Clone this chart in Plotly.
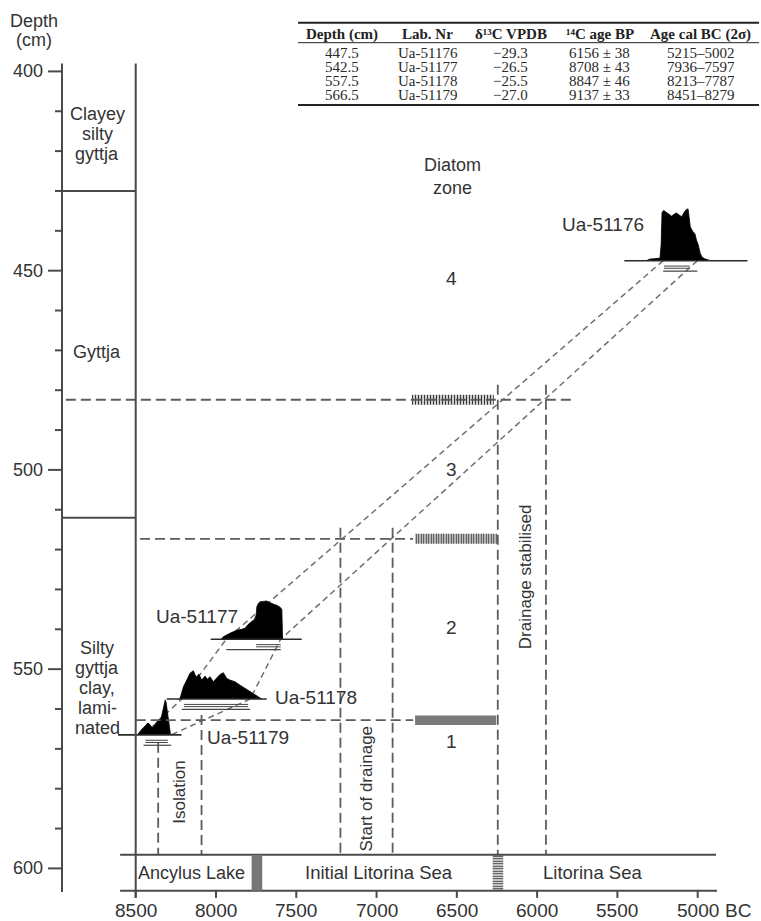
import plotly.graph_objects as go

# ---------------- Radiocarbon dates ----------------
sample_depth = [447.5, 542.5, 557.5, 566.5]
lab_nr = ["Ua-51176", "Ua-51177", "Ua-51178", "Ua-51179"]
d13c_vpdb = ["\u221229.3", "\u221226.5", "\u221225.5", "\u221227.0"]
c14_age_bp = ["6156 \u00b1 38", "8708 \u00b1 43", "8847 \u00b1 46", "9137 \u00b1 33"]
cal_2s_old = [5215, 7936, 8213, 8451]
cal_2s_young = [5002, 7597, 7787, 8279]
cal_1s_old = [5210, 7750, 8200, 8440]
cal_1s_young = [5050, 7597, 7800, 8300]

# Calibrated probability distributions (relative probability, peak = 1)
years_51176 = [5320, 5300, 5260, 5235, 5228, 5222, 5212, 5195, 5178, 5162, 5146, 5131, 5115, 5100,
               5085, 5070, 5060, 5052, 5046, 5030, 5017, 5008, 4996, 4985, 4975, 4960, 4940, 4920]
prob_51176 = [0, 0.03, 0.04, 0.05, 0.3, 0.93, 0.97, 0.93, 0.9, 0.86, 0.9, 0.92, 0.88, 0.85,
              0.93, 0.99, 1.0, 0.8, 0.65, 0.56, 0.52, 0.4, 0.3, 0.15, 0.08, 0.04, 0.02, 0]

years_51177 = [7968, 7954, 7913, 7871, 7840, 7819, 7799, 7775, 7760, 7750, 7745, 7735, 7726, 7705,
               7684, 7670, 7653, 7637, 7622, 7601, 7590, 7587, 7585]
prob_51177 = [0, 0.065, 0.157, 0.235, 0.26, 0.29, 0.39, 0.47, 0.52, 0.63, 0.86, 0.94, 0.98, 0.99,
              1.0, 0.97, 0.93, 0.91, 0.89, 0.84, 0.78, 0.21, 0]

years_51178 = [8235, 8224, 8214, 8203, 8182, 8162, 8141, 8130, 8120, 8106, 8089, 8078, 8068, 8054,
               8037, 8017, 7996, 7975, 7954, 7933, 7913, 7882, 7850, 7819, 7788, 7757, 7726, 7715]
prob_51178 = [0, 0.02, 0.21, 0.43, 0.67, 0.91, 1.0, 0.85, 0.79, 0.88, 0.67, 0.74, 0.81, 0.70,
              0.79, 0.61, 0.73, 0.87, 0.93, 0.73, 0.67, 0.61, 0.49, 0.38, 0.26, 0.14, 0.02, 0]

years_51179 = [8490, 8475, 8460, 8440, 8425, 8410, 8398, 8385, 8370, 8355, 8340, 8330, 8322, 8316,
               8310, 8302, 8295, 8288, 8283]
prob_51179 = [0, 0.09, 0.17, 0.26, 0.34, 0.29, 0.2, 0.26, 0.37, 0.43, 0.51, 0.71, 0.94, 1.0,
              0.91, 0.63, 0.29, 0.09, 0]

# ---------------- Stratigraphy & interpretation ----------------
litho_units = ["Clayey|silty|gyttja", "Gyttja", "Silty|gyttja|clay,|lami-|nated"]
litho_bounds = [430, 512]

zone_names = ["4", "3", "2", "1"]
zone_bound_depth = [482.4, 517.3, 562.8]
zone_bar_old = [6780, 6760, 6760]
zone_bar_young = [6270, 6250, 6255]

event_names = ["Isolation", "Start of drainage", "Drainage stabilised"]
event_old = [8360, 7225, 6245]
event_young = [8090, 6900, 5945]

stage_names = ["Ancylus Lake", "Initial Litorina Sea", "Litorina Sea"]
stage_change_solid = [7778, 7712]
stage_change_hatched = [6277, 6211]

x_ticks = [8500, 8000, 7500, 7000, 6500, 6000, 5500, 5000]
y_major = [400, 450, 500, 550, 600]

# ---------------- Drawing setup ----------------
W, H = 761, 921
X_RANGE = [9345.1, 4605.7]
Y_RANGE = [613.2, 382.08]
SANS = "Liberation Sans, Arial, sans-serif"
SERIF = "Liberation Serif, Times New Roman, serif"
AX = "#4a4a4a"
DASHC = "#5c5c5c"
TXT = "#333333"

BAR_TOP = 596.6
AXIS_D = 605.6
COL_TOP = 398.0


def pxp(p):
    return p / W


def pyp(p):
    return 1 - p / H


shapes = []
annotations = []


def seg(x0, y0, x1, y1, color=AX, width=2, dash=None, xref="x", yref="y"):
    line = dict(color=color, width=width)
    if dash:
        line["dash"] = dash
    shapes.append(dict(type="line", xref=xref, yref=yref, x0=x0, y0=y0, x1=x1, y1=y1,
                       line=line, layer="above"))


def label(text, x, y, size=18.5, xref="x", yref="y", angle=0, xanchor="center",
          yanchor="middle", family=SANS, color=TXT):
    annotations.append(dict(text=text, x=x, y=y, xref=xref, yref=yref, showarrow=False,
                            textangle=angle, xanchor=xanchor, yanchor=yanchor,
                            font=dict(family=family, size=size, color=color)))


fig = go.Figure()

# Age-depth envelope between 2-sigma limits
for xs in (cal_2s_old, cal_2s_young):
    fig.add_trace(go.Scatter(x=xs, y=sample_depth, mode="lines",
                             line=dict(color="#707070", width=1.5, dash="6px,4px"),
                             hoverinfo="skip", showlegend=False))

# Probability distributions
curves = [(years_51176, prob_51176), (years_51177, prob_51177),
          (years_51178, prob_51178), (years_51179, prob_51179)]
peak_cm = [13.0, 9.6, 7.1, 8.8]
baseline_ext = [(5457, 4690), (8033, 7466), (8307, 7684), (8610, 8215)]
for (yrs, pr), d, pk in zip(curves, sample_depth, peak_cm):
    fig.add_trace(go.Scatter(x=yrs, y=[d - p * pk for p in pr], mode="lines", fill="toself",
                             fillcolor="black", line=dict(color="black", width=0.8),
                             hoverinfo="skip", showlegend=False))

for i, d in enumerate(sample_depth):
    x0, x1 = baseline_ext[i]
    seg(x0, d, x1, d, color="#2a2a2a", width=1.6)
    # 1-sigma as a double line, 2-sigma as a single line
    seg(cal_1s_old[i], d + 1.35, cal_1s_young[i], d + 1.35, color="#444", width=1)
    seg(cal_1s_old[i], d + 1.9, cal_1s_young[i], d + 1.9, color="#444", width=1)
    seg(cal_2s_old[i], d + 2.6, cal_2s_young[i], d + 2.6, color="#444", width=1.2)

# Sample labels
label("Ua-51176", 5590, 438.3, size=19)
label("Ua-51177", 8120, 536.8, size=19)
label("Ua-51178", 7645, 557.2, size=19, xanchor="left")
label("Ua-51179", 8068, 567.2, size=19, xanchor="left")

# Diatom zone boundaries
zone_line_ext = [(8935, 5790), (8473, 6772), (8500, 6772)]
for d, (x0, x1) in zip(zone_bound_depth, zone_line_ext):
    seg(x0, d, x1, d, color=DASHC, width=1.8, dash="10px,5px")

hatch_cfg = [dict(shape="|", size=3, solidity=0.5), dict(shape="|", size=2.5, solidity=0.55)]
for i in range(2):
    fig.add_trace(go.Bar(orientation="h", y=[zone_bound_depth[i]], base=[zone_bar_old[i]],
                         x=[zone_bar_young[i] - zone_bar_old[i]], width=[2.5],
                         marker=dict(color="white", line=dict(width=0),
                                     pattern=dict(fgcolor="#3a3a3a", bgcolor="white",
                                                  fillmode="replace", **hatch_cfg[i])),
                         hoverinfo="skip", showlegend=False))
fig.add_trace(go.Bar(orientation="h", y=[zone_bound_depth[2]], base=[zone_bar_old[2]],
                     x=[zone_bar_young[2] - zone_bar_old[2]], width=[2.4],
                     marker=dict(color="#7a7a7a", line=dict(width=0)),
                     hoverinfo="skip", showlegend=False))

label("Diatom", 6530, 423.5, size=18)
label("zone", 6530, 429.2, size=18)
for name, d in zip(zone_names, [452.0, 500.0, 539.6, 568.2]):
    label(name, 6536, d, size=19)

# Event lines (intersections of envelope with zone boundaries)
event_top = [(568.5, 561.5), (514.5, 514.5), (478.6, 478.6)]
for xo, xy, (t0, t1) in zip(event_old, event_young, event_top):
    seg(xo, t0, xo, BAR_TOP, color=DASHC, width=1.8, dash="10px,5px")
    seg(xy, t1, xy, BAR_TOP, color=DASHC, width=1.8, dash="10px,5px")
label(event_names[0], 8224, 581.0, size=17, angle=-90)
label(event_names[1], 7060, 580.0, size=17, angle=-90)
label(event_names[2], 6075, 526.9, size=17, angle=-90)

# Basin stage strip and time axis
seg(8597, BAR_TOP, 4886, BAR_TOP)
seg(8597, AXIS_D, 4880, AXIS_D)
shapes.append(dict(type="rect", xref="x", yref="y", x0=stage_change_solid[0],
                   x1=stage_change_solid[1], y0=BAR_TOP, y1=AXIS_D,
                   fillcolor="#777777", line=dict(width=0), layer="above"))
fig.add_trace(go.Bar(x=[(stage_change_hatched[0] + stage_change_hatched[1]) / 2],
                     y=[AXIS_D - BAR_TOP], base=[BAR_TOP],
                     width=[stage_change_hatched[0] - stage_change_hatched[1]],
                     marker=dict(color="white", line=dict(width=0),
                                 pattern=dict(shape="-", size=2.5, solidity=0.5,
                                              fgcolor="#3a3a3a", bgcolor="white",
                                              fillmode="replace")),
                     hoverinfo="skip", showlegend=False))
label(stage_names[0], 8155, 601.1, size=18)
label(stage_names[1], 6985, 601.1, size=18.5)
label(stage_names[2], 5655, 601.1, size=18.5)

for t in x_ticks:
    seg(t, AXIS_D, t, AXIS_D + 1.8)
    label(str(t), t, 610.6, size=19)
label("BC", 4752, 610.6, size=19)

# Depth axis and lithology column
ax_x = pxp(62)
col_r = pxp(135.7)
seg(ax_x, COL_TOP, ax_x, 605.9, xref="paper")
seg(8500, COL_TOP, 8500, AXIS_D + 1.8)
for d in range(400, 601, 10):
    x0 = pxp(48) if d in y_major else pxp(55)
    seg(x0, d, ax_x, d, xref="paper")
for d in y_major:
    label(str(d), pxp(45), d, size=18, xref="paper", xanchor="right")
label("Depth", pxp(33.5), pyp(20.5), size=18, xref="paper", yref="paper")
label("(cm)", pxp(34), pyp(39.5), size=18, xref="paper", yref="paper")

for d in litho_bounds:
    seg(ax_x, d, col_r, d, xref="paper")
litho_lines = [(litho_units[0], [410.6, 415.6, 420.6]),
               (litho_units[1], [470.4]),
               (litho_units[2], [544.7, 549.7, 554.7, 559.7, 564.7])]
for text, ds in litho_lines:
    for word, d in zip(text.split("|"), ds):
        label(word, pxp(97), d, size=18, xref="paper")

# Radiocarbon table
t_x0, t_x1 = pxp(298), pxp(759)
shapes.append(dict(type="line", xref="paper", yref="paper", x0=t_x0, x1=t_x1,
                   y0=pyp(22.7), y1=pyp(22.7), line=dict(color="#222", width=2)))
shapes.append(dict(type="line", xref="paper", yref="paper", x0=t_x0, x1=t_x1,
                   y0=pyp(42.7), y1=pyp(42.7), line=dict(color="#222", width=1)))
shapes.append(dict(type="line", xref="paper", yref="paper", x0=t_x0, x1=t_x1,
                   y0=pyp(105), y1=pyp(105), line=dict(color="#222", width=2)))
headers = ["Depth (cm)", "Lab. Nr", "\u03b4\u00b9\u00b3C VPDB", "\u00b9\u2074C age BP",
           "Age cal BC (2\u03c3)"]
col_cx = [341.5, 427.5, 510.5, 599.5, 700.5]
for h, cx in zip(headers, col_cx):
    label("<b>" + h + "</b>", pxp(cx), pyp(34.0), size=15, xref="paper", yref="paper",
          family=SERIF, color="#222")
row_py = [53.4, 67.4, 81.2, 95.0]
for i in range(4):
    cells = [f"{sample_depth[i]:.1f}", lab_nr[i], d13c_vpdb[i], c14_age_bp[i],
             f"{cal_2s_old[i]}\u2013{cal_2s_young[i]}"]
    for c, cx in zip(cells, col_cx):
        label(c, pxp(cx), pyp(row_py[i]), size=15, xref="paper", yref="paper",
              family=SERIF, color="#2a2a2a")

fig.update_layout(
    width=W, height=H, autosize=False,
    margin=dict(l=0, r=0, t=0, b=0, pad=0),
    paper_bgcolor="white", plot_bgcolor="white",
    showlegend=False, barmode="overlay", hovermode=False,
    xaxis=dict(range=X_RANGE, visible=False, showgrid=False, zeroline=False, fixedrange=True),
    yaxis=dict(range=Y_RANGE, visible=False, showgrid=False, zeroline=False, fixedrange=True),
    shapes=shapes, annotations=annotations,
)

fig.write_html("out.html")
